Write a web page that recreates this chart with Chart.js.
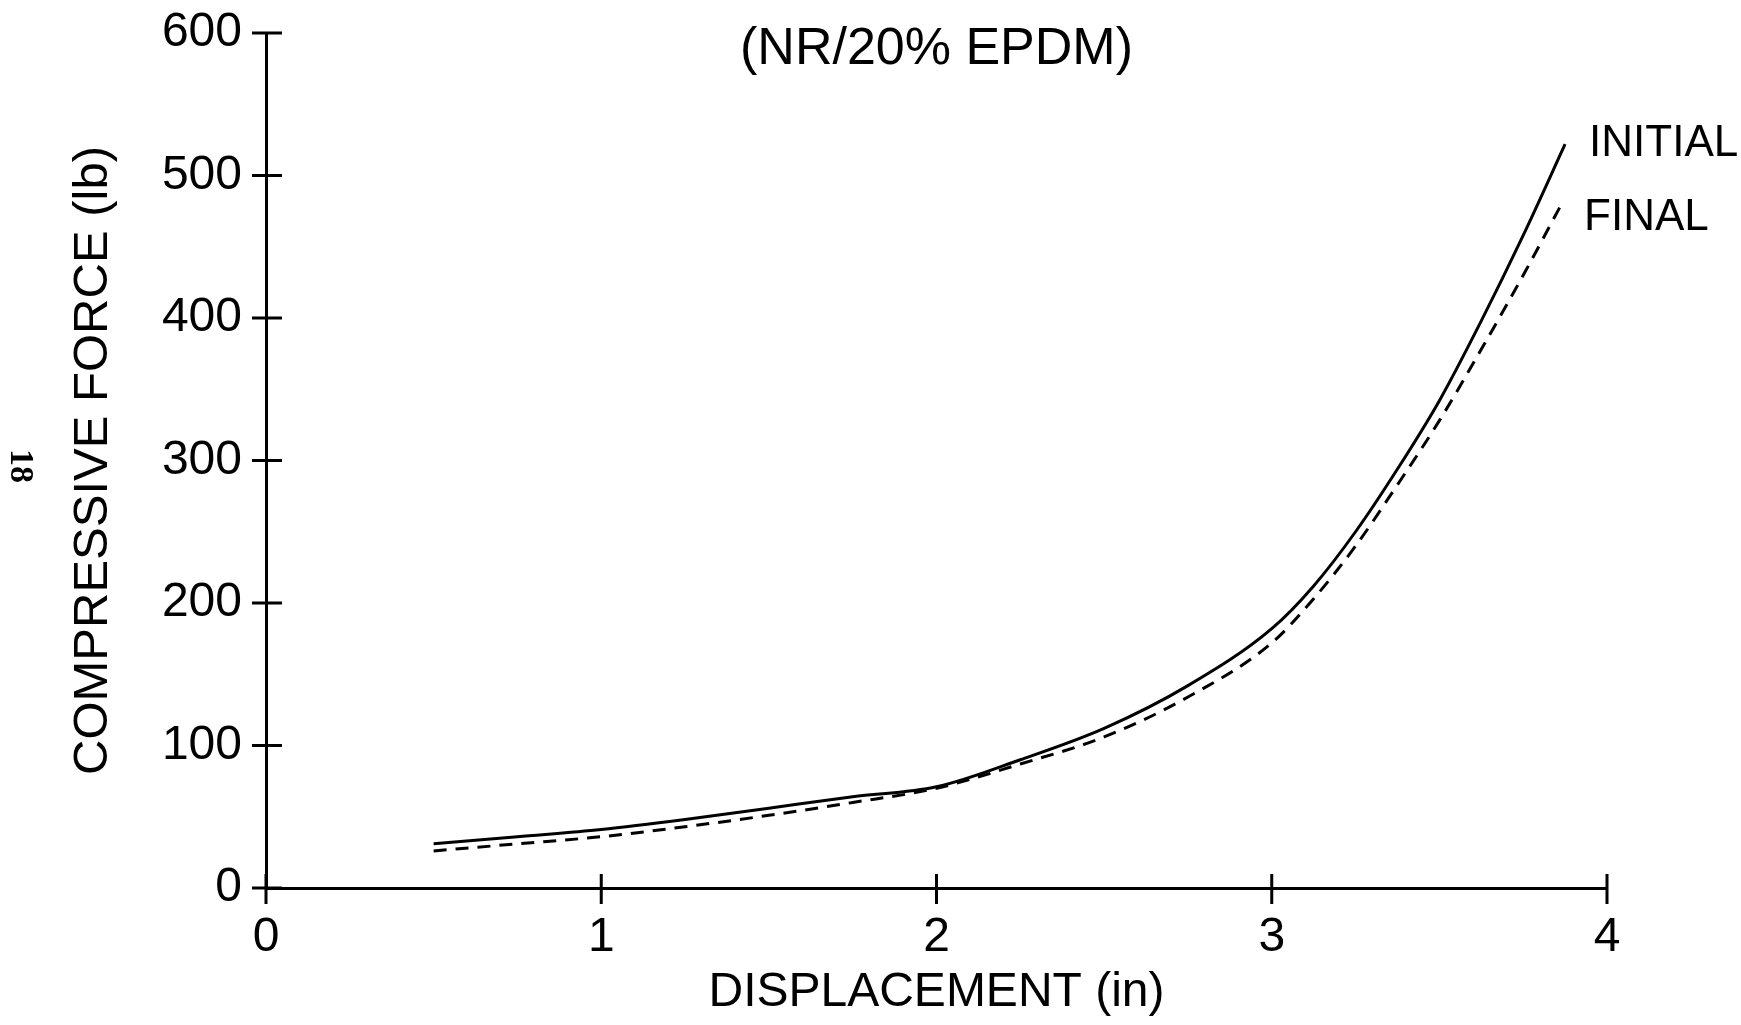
<!DOCTYPE html>
<html>
<head>
<meta charset="utf-8">
<title>Compressive force vs displacement</title>
<script src="https://cdn.jsdelivr.net/npm/chart.js@4.4.0/dist/chart.umd.min.js"></script>
<style>
  html, body { margin: 0; padding: 0; background: #fff; }
  #wrap { width: 1741px; height: 1025px; }
</style>
</head>
<body>
<div id="wrap"><canvas id="forceChart" width="1741" height="1025"></canvas></div>
<script>
// values: displacement (in) -> force (lb)
var initialX = [0.5, 0.75, 1.0, 1.25, 1.5, 1.75, 2.0, 2.25, 2.5, 2.75, 3.0, 3.125, 3.25, 3.375, 3.5, 3.625, 3.75, 3.875];
var initialY = [31, 36, 41, 48, 56, 64, 71, 90, 112, 142, 182, 212, 250, 294, 342, 398, 458, 522];
var finalX = [0.5, 0.75, 1.0, 1.25, 1.5, 1.75, 2.0, 2.25, 2.5, 2.75, 3.0, 3.125, 3.25, 3.375, 3.5, 3.625, 3.75, 3.86];
var finalY = [26, 31, 36, 43, 51, 60, 70, 87, 106, 134, 172, 203, 240, 283, 328, 378, 430, 478];

var xTicks = [0, 1, 2, 3, 4];
var yTicks = [0, 100, 200, 300, 400, 500, 600];
var seriesNames = ['INITIAL', 'FINAL'];
var titleText = '(NR/20% EPDM)';
var pageNumber = '18';

var FONT = '"Liberation Sans", Arial, sans-serif';

function toPoints(xs, ys) {
  return xs.map(function (x, i) { return { x: x, y: ys[i] }; });
}

// ticks that cross the axis lines, the end labels, the title and the page number
var decorations = {
  id: 'decorations',
  afterDraw: function (chart) {
    var ctx = chart.ctx;
    var xs = chart.scales.x, ys = chart.scales.y;
    ctx.save();
    ctx.strokeStyle = '#000';
    ctx.lineWidth = 3;
    ctx.beginPath();
    xTicks.forEach(function (v) {
      var px = xs.getPixelForValue(v);
      ctx.moveTo(px, ys.bottom - 14);
      ctx.lineTo(px, ys.bottom + 16);
    });
    yTicks.forEach(function (v) {
      var py = ys.getPixelForValue(v);
      ctx.moveTo(xs.left - 14, py);
      ctx.lineTo(xs.left + 16, py);
    });
    ctx.stroke();

    ctx.fillStyle = '#000';
    ctx.font = '44px ' + FONT;
    ctx.textAlign = 'left';
    ctx.textBaseline = 'middle';
    var yShift = [0, 11];
    seriesNames.forEach(function (name, i) {
      var pts = chart.getDatasetMeta(i).data;
      var last = pts[pts.length - 1];
      ctx.fillText(name, last.x + 24, last.y + yShift[i]);
    });

    ctx.font = '52px ' + FONT;
    ctx.textAlign = 'center';
    ctx.fillText(titleText, (chart.chartArea.left + chart.chartArea.right) / 2, 50);

    ctx.translate(20, 466);
    ctx.rotate(Math.PI / 2);
    ctx.font = 'bold 34px "Liberation Serif", serif';
    ctx.fillText(pageNumber, 0, 0);
    ctx.restore();
  }
};

var ctx = document.getElementById('forceChart').getContext('2d');
var forceChart = new Chart(ctx, {
  type: 'scatter',
  data: {
    datasets: [{
      label: seriesNames[0],
      data: toPoints(initialX, initialY),
      showLine: true,
      borderColor: '#000',
      borderWidth: 3,
      pointRadius: 0,
      cubicInterpolationMode: 'monotone'
    }, {
      label: seriesNames[1],
      data: toPoints(finalX, finalY),
      showLine: true,
      borderColor: '#000',
      borderWidth: 3,
      borderDash: [13, 9],
      pointRadius: 0,
      cubicInterpolationMode: 'monotone'
    }]
  },
  options: {
    responsive: false,
    animation: false,
    layout: { padding: { top: 33, right: 134, left: 0, bottom: 0 } },
    plugins: { legend: { display: false }, tooltip: { enabled: false } },
    scales: {
      x: {
        type: 'linear',
        min: 0,
        max: 4,
        afterBuildTicks: function (scale) {
          scale.ticks = xTicks.map(function (v) { return { value: v }; });
        },
        afterFit: function (scale) {
          scale.height = 137;
          scale.paddingLeft = 0;
          scale.paddingRight = 0;
        },
        grid: { drawOnChartArea: false, drawTicks: false },
        border: { display: true, color: '#000', width: 3 },
        ticks: { padding: 21, color: '#000', font: { family: FONT, size: 48 } },
        title: {
          display: true,
          text: 'DISPLACEMENT (in)',
          color: '#000',
          padding: { top: 0, bottom: 3 },
          font: { family: FONT, size: 48 }
        }
      },
      y: {
        type: 'linear',
        min: 0,
        max: 600,
        afterBuildTicks: function (scale) {
          scale.ticks = yTicks.map(function (v) { return { value: v }; });
        },
        afterFit: function (scale) {
          scale.width = 266;
          scale.paddingTop = 0;
          scale.paddingBottom = 0;
        },
        grid: { drawOnChartArea: false, drawTicks: false },
        border: { display: true, color: '#000', width: 3 },
        ticks: { padding: 24, color: '#000', font: { family: FONT, size: 48 } },
        title: {
          display: true,
          text: 'COMPRESSIVE FORCE (lb)',
          color: '#000',
          padding: { top: 64, bottom: 0 },
          font: { family: FONT, size: 49 }
        }
      }
    }
  },
  plugins: [decorations]
});
</script>
</body>
</html>
